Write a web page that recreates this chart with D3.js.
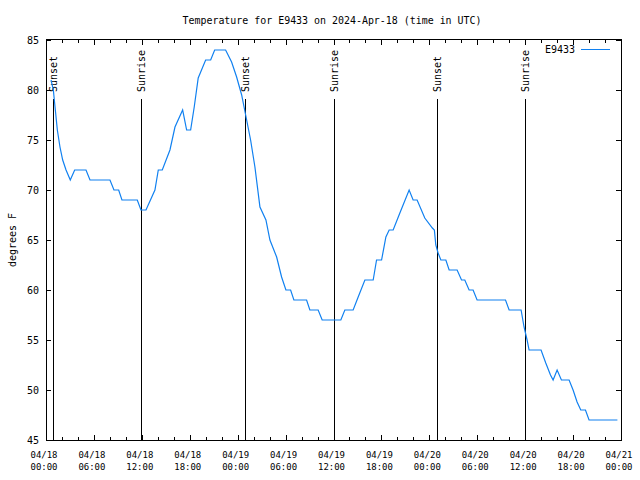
<!DOCTYPE html>
<html>
<head>
<meta charset="utf-8">
<script src="https://cdn.jsdelivr.net/npm/d3@7"></script>
<style>
  html, body { margin: 0; padding: 0; background: #fff; }
  svg { display: block; }
  text { font-family: "DejaVu Sans Mono", "Liberation Mono", monospace; fill: #000; }
</style>
</head>
<body>
<svg id="chart" width="640" height="480"></svg>
<script>
// ---- data ----
const startUTC = Date.UTC(2024, 3, 18, 0, 0);
const hoursSinceStart = [0.63,0.92,1.13,1.42,1.75,2.09,2.51,3.04,3.59,5.01,5.51,8.01,8.51,9.10,9.51,11.43,11.89,12.52,13.64,14.06,14.56,15.52,16.15,17.11,17.61,18.11,18.56,19.06,19.99,20.62,21.12,22.49,23.24,23.87,24.50,24.95,25.62,26.16,26.79,27.54,28.04,28.88,29.50,30.04,30.63,31.04,32.63,33.04,34.08,34.58,36.92,37.42,38.46,39.09,39.93,40.97,41.39,42.02,42.56,42.97,43.47,44.31,45.47,45.97,46.47,47.43,48.38,48.63,48.81,49.10,49.44,50.07,50.48,51.48,52.03,52.44,52.98,53.48,53.98,57.54,57.99,59.49,59.86,60.24,60.49,61.99,62.58,63.17,63.50,64.00,64.54,65.50,66.00,66.50,66.96,67.55,68.00,71.55];
const temperatureF = [81,80,78.3,76,74.3,73,72,71,72,72,71,71,70,70,69,69,68,68,70,72,72,74,76.3,78,76,76,78.3,81.2,83,83,84,84,82.8,81.3,79.5,77.7,75,72.3,68.3,67,65,63.3,61.3,60,60,59,59,58,58,57,57,58,58,59.3,61,61,63,63,65.3,66,66,67.7,70,69,69,67.2,66.2,66,64.5,63.7,63,63,62,62,61,61,60,60,59,59,58,58,56.3,55,54,54,52.7,51.5,51,52,51,51,50,48.8,48,48,47,47];
const sunEventHours = [0.91, 11.93, 24.96, 36.03, 49.0, 59.94];
const sunEventLabels = ["Sunset", "Sunrise", "Sunset", "Sunrise", "Sunset", "Sunrise"];
const yTickValues = [45, 50, 55, 60, 65, 70, 75, 80, 85];
const xTickHours = [0, 6, 12, 18, 24, 30, 36, 42, 48, 54, 60, 66, 72];
const xMinorHours = d3.range(0, 73, 2);
const seriesName = "E9433";
const titleText = "Temperature for E9433 on 2024-Apr-18 (time in UTC)";
const yAxisLabel = "degrees F";

// ---- layout ----
const L = 46, R = 621, T = 40, B = 440;
const lineColor = "#1080f0";
const H = 3600 * 1000;
const toDate = h => new Date(startUTC + h * H);

const svg = d3.select("#chart");
const x = d3.scaleUtc().domain([toDate(0), toDate(72)]).range([L, R]);
const y = d3.scaleLinear().domain([45, 85]).range([B, T]);

const data = hoursSinceStart.map((h, i) => ({ t: toDate(h), v: temperatureF[i] }));

// title
svg.append("text").attr("x", 332).attr("y", 24).attr("text-anchor", "middle")
  .attr("font-size", 10).attr("textLength", 299).attr("lengthAdjust", "spacingAndGlyphs")
  .text(titleText);

// y label
svg.append("text").attr("transform", "translate(16,240) rotate(-90)")
  .attr("text-anchor", "middle").attr("font-size", 10).text(yAxisLabel);

const g = svg.append("g").attr("shape-rendering", "crispEdges");

// ticks
const fmtDay = d3.utcFormat("%m/%d"), fmtTime = d3.utcFormat("%H:%M");
xMinorHours.forEach(h => {
  const px = Math.round(x(toDate(h))) + 0.5;
  const len = (h % 6 === 0) ? 5 : 3;
  g.append("line").attr("x1", px).attr("x2", px).attr("y1", B).attr("y2", B - len).attr("stroke", "#000");
  g.append("line").attr("x1", px).attr("x2", px).attr("y1", T).attr("y2", T + len).attr("stroke", "#000");
});
xTickHours.forEach(h => {
  const d = toDate(h);
  const px = x(d) - 2;
  svg.append("text").attr("x", px).attr("y", 458).attr("text-anchor", "middle").attr("font-size", 9.5)
    .attr("textLength", 27).attr("lengthAdjust", "spacingAndGlyphs").text(fmtDay(d));
  svg.append("text").attr("x", px).attr("y", 470).attr("text-anchor", "middle").attr("font-size", 9.5)
    .attr("textLength", 27).attr("lengthAdjust", "spacingAndGlyphs").text(fmtTime(d));
});
yTickValues.forEach(v => {
  const py = Math.round(y(v)) + 0.5;
  g.append("line").attr("x1", L).attr("x2", L + 5).attr("y1", py).attr("y2", py).attr("stroke", "#000");
  g.append("line").attr("x1", R).attr("x2", R - 5).attr("y1", py).attr("y2", py).attr("stroke", "#000");
  svg.append("text").attr("x", 39).attr("y", y(v) + 3.6).attr("text-anchor", "end").attr("font-size", 10).text(v);
});

// sunrise / sunset markers
sunEventHours.forEach((h, i) => {
  const px = Math.round(x(toDate(h))) + 0.5;
  g.append("line").attr("x1", px).attr("x2", px).attr("y1", 99).attr("y2", B).attr("stroke", "#000");
  svg.append("text").attr("transform", `translate(${px - 0.5 + 4},92) rotate(-90)`)
    .attr("font-size", 10).text(sunEventLabels[i]);
});

// clip
svg.append("clipPath").attr("id", "clip").append("rect").attr("x", L).attr("y", T).attr("width", R - L).attr("height", B - T);

// data line
svg.append("path").datum(data).attr("clip-path", "url(#clip)")
  .attr("fill", "none").attr("stroke", lineColor).attr("stroke-width", 1.2)
  .attr("d", d3.line().x(d => x(d.t)).y(d => y(d.v)));

// border
g.append("rect").attr("x", L + 0.5).attr("y", T - 0.5).attr("width", R - L).attr("height", B - T + 1)
  .attr("fill", "none").attr("stroke", "#000");

// legend
svg.append("text").attr("x", 575).attr("y", 53).attr("text-anchor", "end").attr("font-size", 10).text(seriesName);
g.append("line").attr("x1", 581).attr("x2", 610).attr("y1", 49.5).attr("y2", 49.5).attr("stroke", lineColor);
</script>
</body>
</html>
